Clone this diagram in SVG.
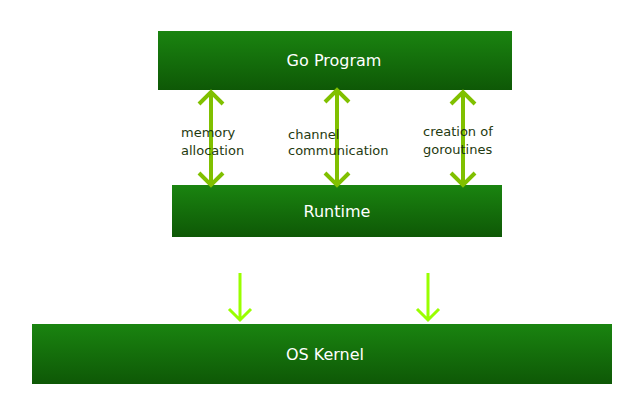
<svg xmlns="http://www.w3.org/2000/svg" width="640" height="400" viewBox="0 0 640 400">
<defs>
<linearGradient id="g" x1="0" y1="0" x2="0" y2="1"><stop offset="0" stop-color="#1a8410"/><stop offset="1" stop-color="#0e5806"/></linearGradient>
<style>
.box{fill:url(#g)}
.t{font-family:"DejaVu Sans",sans-serif;font-size:16px;fill:#fff;text-anchor:middle}
.l{font-family:"DejaVu Sans",sans-serif;font-size:13px;fill:#1f3a10}
.a{stroke:#80c000;stroke-width:4;fill:none}
.b{stroke:#99ff00;stroke-width:3;fill:none}
</style>
</defs>
<rect width="640" height="400" fill="#fff"/>
<g id="go"><rect class="box" x="158" y="31" width="354" height="59"/><text class="t" x="334" y="66">Go Program</text></g>
<g id="runtime"><rect class="box" x="172" y="185" width="330" height="52"/><text class="t" x="337" y="217">Runtime</text></g>
<g id="kernel"><rect class="box" x="32" y="324" width="580" height="60"/><text class="t" x="325" y="360">OS Kernel</text></g>
<g id="connectors">
<path class="a" d="M211 92V185M199 104L211 92L223 104M199 173L211 185L223 173"/>
<path class="a" d="M337 90V185M325 102L337 90L349 102M325 173L337 185L349 173"/>
<path class="a" d="M463 92V185M451 104L463 92L475 104M451 173L463 185L475 173"/>
<path class="b" d="M240 273V320M229 309L240 320L251 309"/>
<path class="b" d="M428 273V320M417 309L428 320L439 309"/>
</g>
<text class="l" x="181" y="137">memory</text><text class="l" x="181" y="155">allocation</text>
<text class="l" x="288" y="139">channel</text><text class="l" x="288" y="155">communication</text>
<text class="l" x="423" y="136">creation of</text><text class="l" x="423" y="154">goroutines</text>
</svg>
